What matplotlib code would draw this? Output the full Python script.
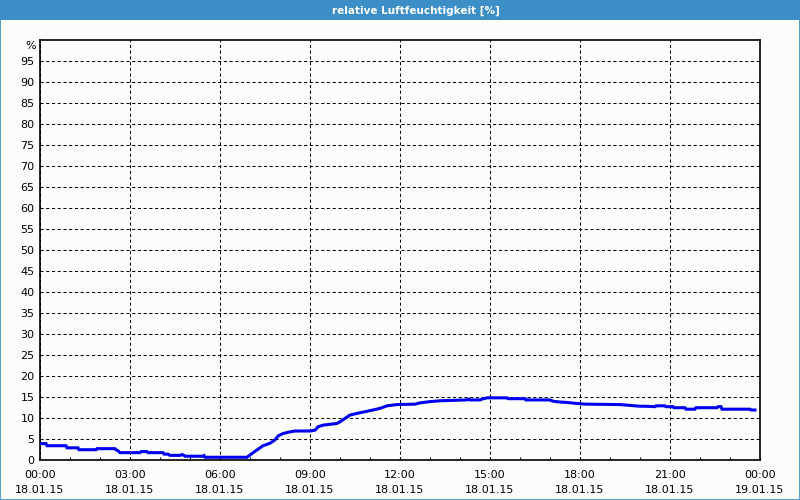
import matplotlib
matplotlib.use("Agg")
import matplotlib.pyplot as plt
from matplotlib.patches import Rectangle
from matplotlib.ticker import MultipleLocator, FixedLocator

title = "relative Luftfeuchtigkeit [%]"
# minutes since 18.01.15 00:00
minutes = [0, 12, 14, 52, 54, 76, 78, 112, 114, 150, 152, 156, 160, 200, 202, 214, 216,
           246, 248, 256, 260, 280, 284, 288, 290, 326, 328, 330, 414, 420, 434, 446,
           460, 470, 476, 486, 496, 510, 540, 550, 556, 566, 594, 600, 610, 620, 634,
           650, 666, 680, 694, 714, 750, 760, 780, 800, 854, 858, 860, 880, 884, 894,
           934, 936, 970, 972, 1020, 1026, 1040, 1054, 1070, 1090, 1160, 1180, 1200,
           1210, 1230, 1232, 1250, 1252, 1266, 1268, 1290, 1292, 1310, 1312, 1354,
           1356, 1362, 1364, 1420, 1422, 1430]
humidity = [3.9, 3.9, 3.4, 3.4, 2.9, 2.9, 2.45, 2.45, 2.7, 2.7, 2.45, 2.2, 1.75, 1.75,
            2.0, 2.0, 1.75, 1.75, 1.4, 1.4, 1.1, 1.1, 1.3, 1.1, 0.9, 0.9, 1.05, 0.65,
            0.65, 1.2, 2.4, 3.4, 4.0, 4.8, 5.7, 6.3, 6.6, 6.9, 6.9, 7.1, 7.9, 8.3, 8.7,
            9.1, 9.9, 10.7, 11.1, 11.5, 11.9, 12.3, 12.9, 13.2, 13.3, 13.6, 13.9, 14.1,
            14.3, 14.5, 14.3, 14.3, 14.5, 14.8, 14.8, 14.6, 14.6, 14.3, 14.3, 14.0,
            13.8, 13.7, 13.5, 13.3, 13.2, 13.0, 12.8, 12.8, 12.7, 12.9, 12.9, 12.7,
            12.7, 12.45, 12.45, 12.1, 12.1, 12.45, 12.45, 12.7, 12.7, 12.1, 12.1, 11.9,
            11.9]
xtick_labels = ["00:00\n18.01.15", "03:00\n18.01.15", "06:00\n18.01.15", "09:00\n18.01.15",
                "12:00\n18.01.15", "15:00\n18.01.15", "18:00\n18.01.15", "21:00\n18.01.15",
                "00:00\n19.01.15"]
ytick_values = list(range(0, 100, 5))

blue_bar = "#3c8fc6"
bg = "#fbfdfb"

fig = plt.figure(figsize=(8, 5), dpi=100, facecolor=bg)
fig.patches.append(Rectangle((0, 0.96), 1, 0.04, transform=fig.transFigure,
                             facecolor=blue_bar, edgecolor="none", zorder=0))
fig.patches.append(Rectangle((0.0006, 0.001), 0.9988, 0.998, transform=fig.transFigure,
                             facecolor="none", edgecolor=blue_bar, lw=1.2, zorder=5))
fig.text(0.52, 0.979, title, color="white", fontsize=7.5, fontweight="bold",
         ha="center", va="center")

ax = fig.add_axes([0.05, 0.08, 0.90, 0.84])
ax.set_facecolor(bg)
ax.plot(minutes, humidity, color="#0000f0", lw=2.2, solid_joinstyle="miter", zorder=3)

ax.set_xlim(0, 1440)
ax.set_ylim(0, 100)
xt = [i * 180 for i in range(len(xtick_labels))]
ax.xaxis.set_major_locator(FixedLocator(xt))
ax.set_xticklabels(xtick_labels, linespacing=1.6)
ax.xaxis.set_minor_locator(MultipleLocator(60))
ax.set_yticks(ytick_values)
ax.set_yticklabels([str(v) for v in ytick_values])
ax.text(-0.006, 98.5, "%", transform=ax.get_yaxis_transform(), ha="right", va="center",
        fontsize=8)

ax.tick_params(axis="x", which="both", direction="in", length=2.5, width=0.8,
               labelsize=8, pad=7.5)
ax.tick_params(axis="y", which="both", length=0, labelsize=8, pad=4)
ax.grid(True, which="major", color="black", linestyle=(0, (3, 2.5)), linewidth=0.75)
for s in ax.spines.values():
    s.set_linewidth(1.2)
    s.set_color("black")

fig.savefig("out.png", dpi=100, facecolor=bg)
